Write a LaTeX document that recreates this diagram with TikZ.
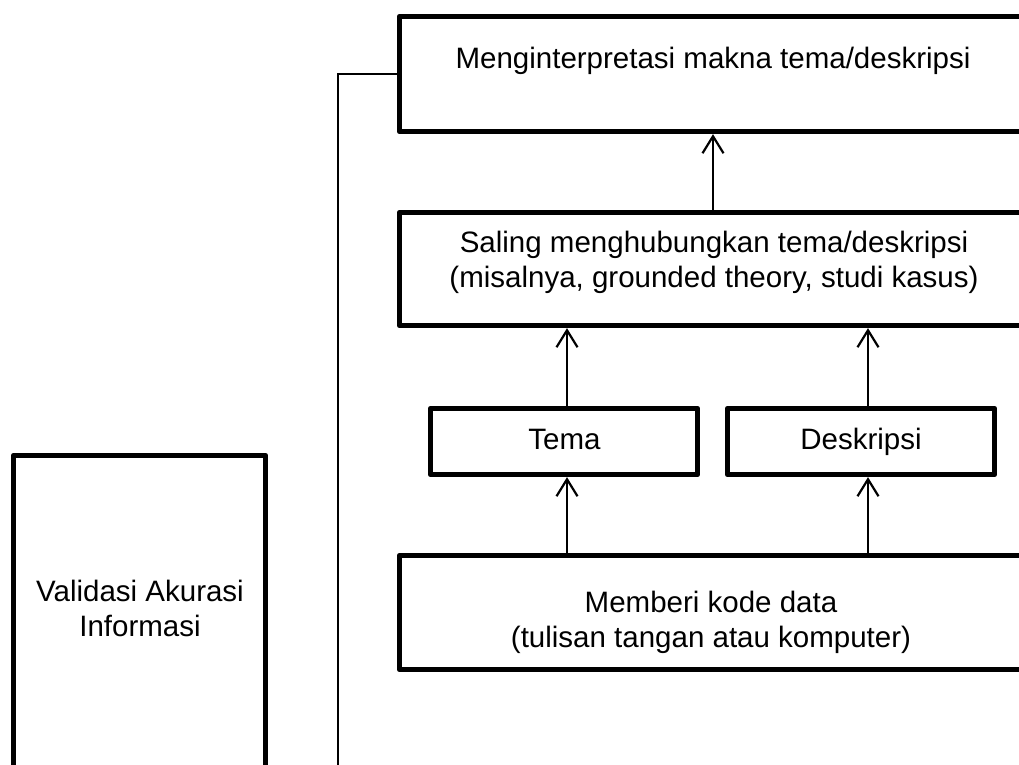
\documentclass[tikz,border=0pt]{standalone}
\usepackage{fontspec}
\setmainfont{Liberation Sans}
\usetikzlibrary{arrows.meta}
\tikzset{
  box/.style={draw=black, line width=4.8pt, rectangle, inner sep=0pt, line join=round, fill=white},
  txt/.style={inner sep=0pt, anchor=base, font=\fontsize{29.5}{35}\selectfont},
  arr/.style={line width=2.2pt, -{Straight Barb[length=17pt,width=21pt,line width=2.2pt]}},
  conn/.style={line width=2.2pt}
}
\begin{document}
\begin{tikzpicture}[x=1pt,y=-1pt]
\useasboundingbox (0,0) rectangle (1019,764);
\clip (0,0) rectangle (1019,764);
% boxes
\node[box, minimum width=627.5pt, minimum height=115.5pt] (top) at (713,74) {};
\node[box, minimum width=627.5pt, minimum height=113.5pt] (mid) at (713,269) {};
\node[box, minimum width=267.5pt, minimum height=66.5pt] (tema) at (564,441.5) {};
\node[box, minimum width=267.5pt, minimum height=66.5pt] (desk) at (861,441.5) {};
\node[box, minimum width=627.5pt, minimum height=114.5pt] (bot) at (713,612.5) {};
\node[box, minimum width=252.5pt, minimum height=342.5pt] (val) at (139.5,626.5) {};
% texts
\node[txt] (topt) at (713,68) {Menginterpretasi makna tema/deskripsi};
\node[txt] (midt1) at (714,252) {Saling menghubungkan tema/deskripsi};
\node[txt] (midt2) at (714,287) {(misalnya, grounded theory, studi kasus)};
\node[txt] (temat) at (564.5,449) {Tema};
\node[txt] (deskt) at (861,449) {Deskripsi};
\node[txt] (bott1) at (711,612) {Memberi kode data};
\node[txt] (bott2) at (711,647) {(tulisan tangan atau komputer)};
\node[txt] (valt1) at (140,601) {Validasi Akurasi};
\node[txt] (valt2) at (140,636) {Informasi};
% arrows
\draw[arr] ([xshift=3pt]bot.north -| tema.south) -- ([xshift=3pt]tema.south);
\draw[arr] ([xshift=7pt]bot.north -| desk.south) -- ([xshift=7pt]desk.south);
\draw[arr] ([xshift=3pt]tema.north) -- ([xshift=3pt]mid.south -| tema.north);
\draw[arr] ([xshift=7pt]desk.north) -- ([xshift=7pt]mid.south -| desk.north);
\draw[arr] (mid.north) -- (top.south);
% connector
\coordinate (lineend) at (338,790);
\draw[conn] (top.west) -| (lineend);
\end{tikzpicture}
\end{document}
